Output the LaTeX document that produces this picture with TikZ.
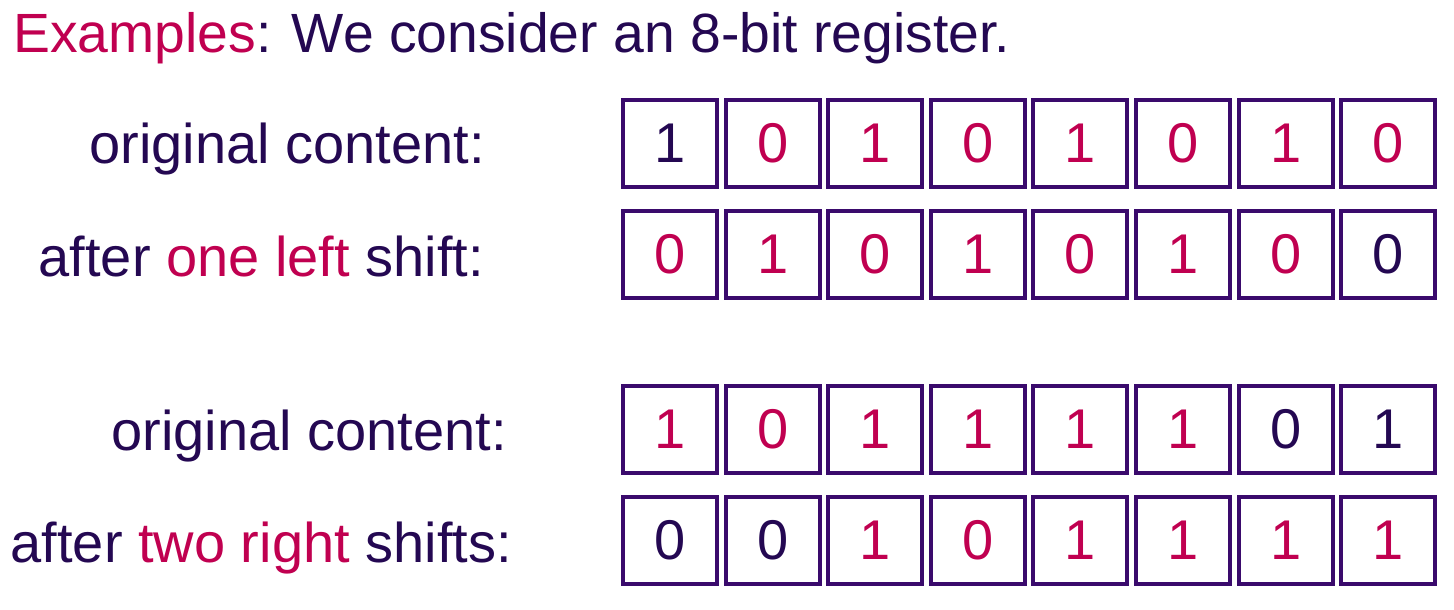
\documentclass[tikz,border=0pt]{standalone}
\usepackage{fontspec}
\setmainfont{Liberation Sans}
\definecolor{ink}{RGB}{36,8,82}
\definecolor{hilite}{RGB}{192,0,80}
\definecolor{frame}{RGB}{58,10,108}

\begin{document}
\begin{tikzpicture}[x=1pt,y=-1pt,font=\fontsize{56}{60}\selectfont,
  bit/.style={draw=frame,line width=4pt,minimum width=94pt,minimum height=87pt,inner sep=0pt},
  lbl/.style={anchor=base east,inner sep=0pt,text=ink}]
  \useasboundingbox (0,0) rectangle (1454,610);
  \node(title)[anchor=base west,inner sep=0pt,text=ink,font=\fontsize{55.3}{60}\selectfont] at (13,53) {\textcolor{hilite}{Examples}: We consider an 8-bit register.};

  \node(orig1)[lbl] at (485,163) {original content:};
  \node(shift1)[lbl] at (484,276) {after \textcolor{hilite}{one left} shift:};
  \node(orig2)[lbl] at (507,450) {original content:};
  \node(shift2)[lbl] at (512,562) {after \textcolor{hilite}{two right} shifts:};

  % registers
  \foreach \b/\c [count=\i] in {1/ink,0/hilite,1/hilite,0/hilite,1/hilite,0/hilite,1/hilite,0/hilite}
    \node(a\i)[bit,text=\c] at ({670+102.6*(\i-1)},143.5) {\b};
  \foreach \b/\c [count=\i] in {0/hilite,1/hilite,0/hilite,1/hilite,0/hilite,1/hilite,0/hilite,0/ink}
    \node(b\i)[bit,text=\c] at ({670+102.6*(\i-1)},254.5) {\b};
  \foreach \b/\c [count=\i] in {1/hilite,0/hilite,1/hilite,1/hilite,1/hilite,1/hilite,0/ink,1/ink}
    \node(c\i)[bit,text=\c] at ({670+102.6*(\i-1)},429) {\b};
  \foreach \b/\c [count=\i] in {0/ink,0/ink,1/hilite,0/hilite,1/hilite,1/hilite,1/hilite,1/hilite}
    \node(d\i)[bit,text=\c] at ({670+102.6*(\i-1)},540) {\b};
\end{tikzpicture}
\end{document}
